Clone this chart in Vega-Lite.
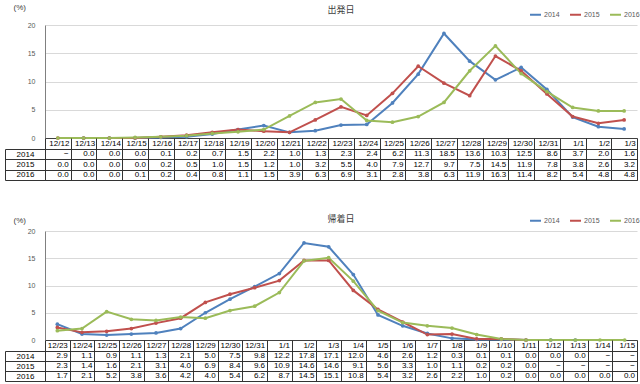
{
  "$schema": "https://vega.github.io/schema/vega-lite/v6.json",
  "padding": {"left": 4, "top": 3, "right": 0, "bottom": 0},
  "config": {"view": {"stroke": null}, "font": "Liberation Sans"},
  "datasets": {
    "dep": [
      {"d":"12/12","yr":"2014","v":null},{"d":"12/13","yr":"2014","v":0},{"d":"12/14","yr":"2014","v":0},{"d":"12/15","yr":"2014","v":0},{"d":"12/16","yr":"2014","v":0.1},{"d":"12/17","yr":"2014","v":0.2},{"d":"12/18","yr":"2014","v":0.7},{"d":"12/19","yr":"2014","v":1.5},{"d":"12/20","yr":"2014","v":2.2},{"d":"12/21","yr":"2014","v":1.0},{"d":"12/22","yr":"2014","v":1.3},{"d":"12/23","yr":"2014","v":2.3},{"d":"12/24","yr":"2014","v":2.4},{"d":"12/25","yr":"2014","v":6.2},{"d":"12/26","yr":"2014","v":11.3},{"d":"12/27","yr":"2014","v":18.5},{"d":"12/28","yr":"2014","v":13.6},{"d":"12/29","yr":"2014","v":10.3},{"d":"12/30","yr":"2014","v":12.5},{"d":"12/31","yr":"2014","v":8.6},{"d":"1/1","yr":"2014","v":3.7},{"d":"1/2","yr":"2014","v":2.0},{"d":"1/3","yr":"2014","v":1.6},
      {"d":"12/12","yr":"2015","v":0},{"d":"12/13","yr":"2015","v":0},{"d":"12/14","yr":"2015","v":0},{"d":"12/15","yr":"2015","v":0},{"d":"12/16","yr":"2015","v":0.2},{"d":"12/17","yr":"2015","v":0.5},{"d":"12/18","yr":"2015","v":1.0},{"d":"12/19","yr":"2015","v":1.5},{"d":"12/20","yr":"2015","v":1.2},{"d":"12/21","yr":"2015","v":1.0},{"d":"12/22","yr":"2015","v":3.2},{"d":"12/23","yr":"2015","v":5.5},{"d":"12/24","yr":"2015","v":4.0},{"d":"12/25","yr":"2015","v":7.9},{"d":"12/26","yr":"2015","v":12.7},{"d":"12/27","yr":"2015","v":9.7},{"d":"12/28","yr":"2015","v":7.5},{"d":"12/29","yr":"2015","v":14.5},{"d":"12/30","yr":"2015","v":11.9},{"d":"12/31","yr":"2015","v":7.8},{"d":"1/1","yr":"2015","v":3.8},{"d":"1/2","yr":"2015","v":2.6},{"d":"1/3","yr":"2015","v":3.2},
      {"d":"12/12","yr":"2016","v":0},{"d":"12/13","yr":"2016","v":0},{"d":"12/14","yr":"2016","v":0},{"d":"12/15","yr":"2016","v":0.1},{"d":"12/16","yr":"2016","v":0.2},{"d":"12/17","yr":"2016","v":0.4},{"d":"12/18","yr":"2016","v":0.8},{"d":"12/19","yr":"2016","v":1.1},{"d":"12/20","yr":"2016","v":1.5},{"d":"12/21","yr":"2016","v":3.9},{"d":"12/22","yr":"2016","v":6.3},{"d":"12/23","yr":"2016","v":6.9},{"d":"12/24","yr":"2016","v":3.1},{"d":"12/25","yr":"2016","v":2.8},{"d":"12/26","yr":"2016","v":3.8},{"d":"12/27","yr":"2016","v":6.3},{"d":"12/28","yr":"2016","v":11.9},{"d":"12/29","yr":"2016","v":16.3},{"d":"12/30","yr":"2016","v":11.4},{"d":"12/31","yr":"2016","v":8.2},{"d":"1/1","yr":"2016","v":5.4},{"d":"1/2","yr":"2016","v":4.8},{"d":"1/3","yr":"2016","v":4.8}
    ],
    "ret": [
      {"d":"12/23","yr":"2014","v":2.9},{"d":"12/24","yr":"2014","v":1.1},{"d":"12/25","yr":"2014","v":0.9},{"d":"12/26","yr":"2014","v":1.1},{"d":"12/27","yr":"2014","v":1.3},{"d":"12/28","yr":"2014","v":2.1},{"d":"12/29","yr":"2014","v":5.0},{"d":"12/30","yr":"2014","v":7.5},{"d":"12/31","yr":"2014","v":9.8},{"d":"1/1","yr":"2014","v":12.2},{"d":"1/2","yr":"2014","v":17.8},{"d":"1/3","yr":"2014","v":17.1},{"d":"1/4","yr":"2014","v":12.0},{"d":"1/5","yr":"2014","v":4.6},{"d":"1/6","yr":"2014","v":2.6},{"d":"1/7","yr":"2014","v":1.2},{"d":"1/8","yr":"2014","v":0.3},{"d":"1/9","yr":"2014","v":0.1},{"d":"1/10","yr":"2014","v":0.1},{"d":"1/11","yr":"2014","v":0},{"d":"1/12","yr":"2014","v":0},{"d":"1/13","yr":"2014","v":0},{"d":"1/14","yr":"2014","v":null},{"d":"1/15","yr":"2014","v":null},
      {"d":"12/23","yr":"2015","v":2.3},{"d":"12/24","yr":"2015","v":1.4},{"d":"12/25","yr":"2015","v":1.6},{"d":"12/26","yr":"2015","v":2.1},{"d":"12/27","yr":"2015","v":3.1},{"d":"12/28","yr":"2015","v":4.0},{"d":"12/29","yr":"2015","v":6.9},{"d":"12/30","yr":"2015","v":8.4},{"d":"12/31","yr":"2015","v":9.6},{"d":"1/1","yr":"2015","v":10.9},{"d":"1/2","yr":"2015","v":14.6},{"d":"1/3","yr":"2015","v":14.6},{"d":"1/4","yr":"2015","v":9.1},{"d":"1/5","yr":"2015","v":5.6},{"d":"1/6","yr":"2015","v":3.3},{"d":"1/7","yr":"2015","v":1.0},{"d":"1/8","yr":"2015","v":1.1},{"d":"1/9","yr":"2015","v":0.2},{"d":"1/10","yr":"2015","v":0.2},{"d":"1/11","yr":"2015","v":0},{"d":"1/12","yr":"2015","v":null},{"d":"1/13","yr":"2015","v":null},{"d":"1/14","yr":"2015","v":null},{"d":"1/15","yr":"2015","v":null},
      {"d":"12/23","yr":"2016","v":1.7},{"d":"12/24","yr":"2016","v":2.1},{"d":"12/25","yr":"2016","v":5.2},{"d":"12/26","yr":"2016","v":3.8},{"d":"12/27","yr":"2016","v":3.6},{"d":"12/28","yr":"2016","v":4.2},{"d":"12/29","yr":"2016","v":4.0},{"d":"12/30","yr":"2016","v":5.4},{"d":"12/31","yr":"2016","v":6.2},{"d":"1/1","yr":"2016","v":8.7},{"d":"1/2","yr":"2016","v":14.5},{"d":"1/3","yr":"2016","v":15.1},{"d":"1/4","yr":"2016","v":10.8},{"d":"1/5","yr":"2016","v":5.4},{"d":"1/6","yr":"2016","v":3.2},{"d":"1/7","yr":"2016","v":2.6},{"d":"1/8","yr":"2016","v":2.2},{"d":"1/9","yr":"2016","v":1.0},{"d":"1/10","yr":"2016","v":0.2},{"d":"1/11","yr":"2016","v":0},{"d":"1/12","yr":"2016","v":0},{"d":"1/13","yr":"2016","v":0},{"d":"1/14","yr":"2016","v":0},{"d":"1/15","yr":"2016","v":0}
    ]
  },
  "spacing": 33,
  "resolve": {"scale": {"x": "independent", "color": "independent"}, "legend": {"color": "independent"}},
  "vconcat": [
    {
      "spacing": 11,
      "bounds": "flush",
      "resolve": {"scale": {"x": "independent"}},
      "vconcat": [
        {
          "width": 592, "height": 113,
          "data": {"name": "dep"},
          "title": {"text": "出発日", "font": "Noto Sans CJK JP", "fontSize": 9, "fontWeight": "normal", "color": "#404040", "anchor": "middle", "offset": -12},
          "mark": {"type": "line", "strokeWidth": 2, "point": {"filled": true, "size": 14}},
          "encoding": {
            "x": {"field": "d", "type": "ordinal", "sort": ["12/12","12/13","12/14","12/15","12/16","12/17","12/18","12/19","12/20","12/21","12/22","12/23","12/24","12/25","12/26","12/27","12/28","12/29","12/30","12/31","1/1","1/2","1/3"], "scale": {"type": "point", "padding": 0.5}, "axis": {"labels": false, "ticks": false, "grid": false, "domain": true, "domainColor": "#404040", "title": null}},
            "y": {"field": "v", "type": "quantitative", "scale": {"domain": [0, 20]}, "axis": {"values": [0, 5, 10, 15, 20], "grid": true, "gridColor": "#d9d9d9", "domainColor": "#808080", "ticks": false, "labelFontSize": 7, "labelColor": "#595959", "labelPadding": 10, "title": "(%)", "titleAngle": 0, "titleAlign": "left", "titleBaseline": "middle", "titleX": -32, "titleY": -18, "titleFontSize": 8, "titleFontWeight": "normal", "titleColor": "#404040"}},
            "color": {"field": "yr", "type": "nominal", "scale": {"domain": ["2014", "2015", "2016"], "range": ["#4F81BD", "#C0504D", "#9BBB59"]}, "legend": {"orient": "none", "legendX": 484, "legendY": -17, "direction": "horizontal", "title": null, "symbolType": "stroke", "symbolStrokeWidth": 2, "symbolSize": 120, "labelFontSize": 7, "labelColor": "#595959", "columnPadding": 6, "labelOffset": 2}}
          }
        },
        {
          "width": 592, "height": 31,
          "data": {"name": "dep"},
          "view": {"stroke": "#333"},
          "resolve": {"axis": {"y": "independent"}},
          "layer": [
            {
              "mark": {"type": "text", "align": "right", "baseline": "middle", "dx": -2, "fontSize": 8, "color": "#000"},
              "encoding": {
                "x": {"field": "d", "type": "ordinal", "bandPosition": 1, "sort": ["12/12","12/13","12/14","12/15","12/16","12/17","12/18","12/19","12/20","12/21","12/22","12/23","12/24","12/25","12/26","12/27","12/28","12/29","12/30","12/31","1/1","1/2","1/3"], "scale": {"type": "band", "paddingInner": 0, "paddingOuter": 0}, "axis": {"orient": "top", "title": null, "tickBand": "extent", "tickSize": 11, "tickColor": "#333", "labelAngle": 0, "labelFontSize": 8, "labelColor": "#000", "labelAlign": "right", "labelOffset": 11, "labelPadding": -9, "grid": true, "gridColor": "#333", "domain": false}},
                "y": {"field": "yr", "type": "ordinal", "scale": {"type": "band", "paddingInner": 0, "paddingOuter": 0}, "axis": {"orient": "left", "title": null, "tickBand": "extent", "tickSize": 40, "tickColor": "#333", "labelFontSize": 8, "labelColor": "#000", "labelAlign": "center", "labelPadding": -20, "grid": true, "gridColor": "#333", "domain": false}},
                "text": {"condition": {"test": "datum.v === null", "value": "−"}, "field": "v", "type": "quantitative", "format": ".1f"}
              }
            },
            {
              "mark": {"type": "text", "text": ""},
              "encoding": {
                "y": {"field": "yr", "type": "ordinal", "axis": {"orient": "left", "offset": 40, "labels": false, "ticks": false, "grid": false, "domain": true, "domainColor": "#333", "title": null}}
              }
            }
          ]
        }
      ]
    },
    {
      "spacing": 11,
      "bounds": "flush",
      "resolve": {"scale": {"x": "independent"}},
      "vconcat": [
        {
          "width": 592, "height": 109,
          "data": {"name": "ret"},
          "title": {"text": "帰着日", "font": "Noto Sans CJK JP", "fontSize": 9, "fontWeight": "normal", "color": "#404040", "anchor": "middle", "offset": -8},
          "mark": {"type": "line", "strokeWidth": 2, "point": {"filled": true, "size": 14}},
          "encoding": {
            "x": {"field": "d", "type": "ordinal", "sort": ["12/23","12/24","12/25","12/26","12/27","12/28","12/29","12/30","12/31","1/1","1/2","1/3","1/4","1/5","1/6","1/7","1/8","1/9","1/10","1/11","1/12","1/13","1/14","1/15"], "scale": {"type": "point", "padding": 0.5}, "axis": {"labels": false, "ticks": false, "grid": false, "domain": true, "domainColor": "#404040", "title": null}},
            "y": {"field": "v", "type": "quantitative", "scale": {"domain": [0, 20]}, "axis": {"values": [0, 5, 10, 15, 20], "grid": true, "gridColor": "#d9d9d9", "domainColor": "#808080", "ticks": false, "labelFontSize": 7, "labelColor": "#595959", "labelPadding": 10, "title": "(%)", "titleAngle": 0, "titleAlign": "left", "titleBaseline": "middle", "titleX": -32, "titleY": -11, "titleFontSize": 8, "titleFontWeight": "normal", "titleColor": "#404040"}},
            "color": {"field": "yr", "type": "nominal", "scale": {"domain": ["2014", "2015", "2016"], "range": ["#4F81BD", "#C0504D", "#9BBB59"]}, "legend": {"orient": "none", "legendX": 484, "legendY": -17, "direction": "horizontal", "title": null, "symbolType": "stroke", "symbolStrokeWidth": 2, "symbolSize": 120, "labelFontSize": 7, "labelColor": "#595959", "columnPadding": 6, "labelOffset": 2}}
          }
        },
        {
          "width": 592, "height": 30,
          "data": {"name": "ret"},
          "view": {"stroke": "#333"},
          "resolve": {"axis": {"y": "independent"}},
          "layer": [
            {
              "mark": {"type": "text", "align": "right", "baseline": "middle", "dx": -2, "fontSize": 8, "color": "#000"},
              "encoding": {
                "x": {"field": "d", "type": "ordinal", "bandPosition": 1, "sort": ["12/23","12/24","12/25","12/26","12/27","12/28","12/29","12/30","12/31","1/1","1/2","1/3","1/4","1/5","1/6","1/7","1/8","1/9","1/10","1/11","1/12","1/13","1/14","1/15"], "scale": {"type": "band", "paddingInner": 0, "paddingOuter": 0}, "axis": {"orient": "top", "title": null, "tickBand": "extent", "tickSize": 11, "tickColor": "#333", "labelAngle": 0, "labelFontSize": 8, "labelColor": "#000", "labelAlign": "right", "labelOffset": 10, "labelPadding": -9, "grid": true, "gridColor": "#333", "domain": false}},
                "y": {"field": "yr", "type": "ordinal", "scale": {"type": "band", "paddingInner": 0, "paddingOuter": 0}, "axis": {"orient": "left", "title": null, "tickBand": "extent", "tickSize": 40, "tickColor": "#333", "labelFontSize": 8, "labelColor": "#000", "labelAlign": "center", "labelPadding": -20, "grid": true, "gridColor": "#333", "domain": false}},
                "text": {"condition": {"test": "datum.v === null", "value": "−"}, "field": "v", "type": "quantitative", "format": ".1f"}
              }
            },
            {
              "mark": {"type": "text", "text": ""},
              "encoding": {
                "y": {"field": "yr", "type": "ordinal", "axis": {"orient": "left", "offset": 40, "labels": false, "ticks": false, "grid": false, "domain": true, "domainColor": "#333", "title": null}}
              }
            }
          ]
        }
      ]
    }
  ]
}
